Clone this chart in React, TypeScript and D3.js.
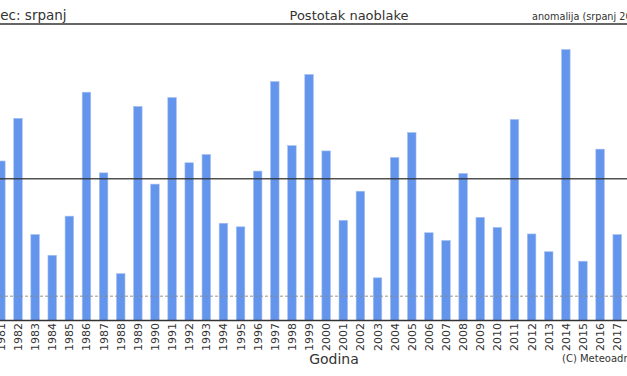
import React from "react";
import * as d3 from "d3";

const years: number[] = [1981,1982,1983,1984,1985,1986,1987,1988,1989,1990,1991,1992,1993,1994,1995,1996,1997,1998,1999,2000,2001,2002,2003,2004,2005,2006,2007,2008,2009,2010,2011,2012,2013,2014,2015,2016,2017];
const cloudPct: number[] = [26.9,34.1,14.5,11.0,17.6,38.5,24.9,7.9,36.1,23.0,37.6,26.6,28.0,16.4,15.8,25.2,40.3,29.5,41.5,28.6,16.9,21.8,7.2,27.5,31.7,14.8,13.5,24.8,17.4,15.7,33.9,14.6,11.6,45.7,10.0,28.9,14.5];
const meanValue = 23.9;
const lowRef = 4.1;
const yDomain: [number, number] = [0, 50];

const W = 627, H = 376;
const FONT = "DejaVu Sans, sans-serif";

export default function App() {
  const step = 17.12;
  const x = d3.scaleBand<string>()
    .domain(years.map(String))
    .range([0.88 - step / 2, 0.88 - step / 2 + step * years.length])
    .paddingInner(0.5)
    .paddingOuter(0.25);
  const y = d3.scaleLinear().domain(yDomain).range([320.5, 24]);
  const bw = x.bandwidth();

  return (
    <svg width={W} height={H} style={{ position: "absolute", left: 0, top: 0, background: "#fff" }}>
      {years.map((yr, i) => (
        <rect key={yr} x={x(String(yr))!} y={y(cloudPct[i])}
          width={bw} height={y(0) - y(cloudPct[i])} fill="#6495ED" stroke="#a9c2f2" strokeWidth={0.6} />
      ))}
      <line x1={0} x2={W} y1={y(meanValue)} y2={y(meanValue)} stroke="#333" strokeOpacity={0.85} strokeWidth={1.3} />
      <line x1={0} x2={W} y1={y(lowRef)} y2={y(lowRef)} stroke="#888" strokeWidth={0.9} strokeDasharray="3,2" />
      <line x1={0} x2={W} y1={y(0)} y2={y(0)} stroke="#333" strokeWidth={1.3} />
      <line x1={0} x2={W} y1={24} y2={24} stroke="#333" strokeWidth={1.3} />
      {years.map((yr) => {
        const cx = x(String(yr))! + bw / 2;
        return (
          <text key={"t" + yr} transform={`translate(${cx + 4},323) rotate(-90)`} textAnchor="end"
            fontFamily={FONT} fontSize={11} fill="#333">{yr}</text>
        );
      })}
      <text x={349} y={20} textAnchor="middle" fontFamily={FONT} fontSize={13} fill="#333">Postotak naoblake</text>
      <text x={66.6} y={20} textAnchor="end" fontFamily={FONT} fontSize={13.5} fill="#333">Mjesec: srpanj</text>
      <text x={532} y={20} fontFamily={FONT} fontSize={9.7} fill="#333">anomalija (srpanj 2017)</text>
      <text x={334} y={364} textAnchor="middle" fontFamily={FONT} fontSize={14} fill="#333">Godina</text>
      <text x={562} y={362} fontFamily={FONT} fontSize={10} fill="#333">(C) Meteoadria</text>
    </svg>
  );
}
